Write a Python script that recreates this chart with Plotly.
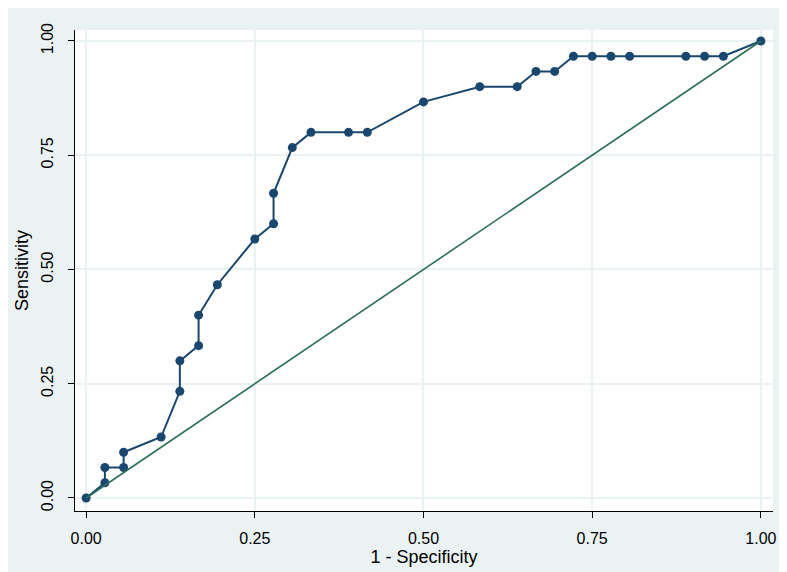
import plotly.graph_objects as go

# ROC points (36 negatives, 30 positives)
fpr = [0, 1/36, 1/36, 2/36, 2/36, 4/36, 5/36, 5/36, 6/36, 6/36, 7/36,
       9/36, 10/36, 10/36, 11/36, 12/36, 14/36, 15/36, 18/36, 21/36,
       23/36, 24/36, 25/36, 26/36, 27/36, 28/36, 29/36, 32/36, 33/36,
       34/36, 1]
tpr = [0, 1/30, 2/30, 2/30, 3/30, 4/30, 7/30, 9/30, 10/30, 12/30, 14/30,
       17/30, 18/30, 20/30, 23/30, 24/30, 24/30, 24/30, 26/30, 27/30,
       27/30, 28/30, 28/30, 29/30, 29/30, 29/30, 29/30, 29/30, 29/30,
       29/30, 1]
ref_x = [0, 1]
ref_y = [0, 1]
ticks = [0, 0.25, 0.5, 0.75, 1]
tick_text = ["0.00", "0.25", "0.50", "0.75", "1.00"]

bg = "#EAF2F3"
navy = "#1a476f"

fig = go.Figure()
fig.add_trace(go.Scatter(x=fpr, y=tpr, mode="lines+markers",
                         line=dict(color=navy, width=2),
                         marker=dict(color=navy, size=9, symbol="circle"),
                         showlegend=False))
fig.add_trace(go.Scatter(x=ref_x, y=ref_y, mode="lines",
                         line=dict(color="#2d6e5a", width=1.6),
                         showlegend=False))

fig.update_layout(
    width=787, height=572,
    margin=dict(l=67, r=22, t=22, b=69),
    paper_bgcolor=bg, plot_bgcolor="white",
    font=dict(family="Liberation Sans, Arial, sans-serif", size=15, color="black"),
)
fig.update_xaxes(range=[-0.0165, 1.018], tickvals=ticks, ticktext=tick_text,
                 automargin=False, tickfont=dict(size=16),
                 showgrid=True, gridcolor=bg, gridwidth=1.5, zeroline=False,
                 showline=True, linecolor="black", linewidth=1,
                 ticks="outside", ticklen=6, tickcolor="black",
                 ticklabelstandoff=7,
                 title=dict(text="1 - Specificity", standoff=3))
fig.update_yaxes(range=[-0.0285, 1.024], tickvals=ticks, ticktext=tick_text,
                 tickangle=-90, automargin=False, tickfont=dict(size=16),
                 showgrid=True, gridcolor=bg, gridwidth=1.5, zeroline=False,
                 showline=True, linecolor="black", linewidth=1,
                 ticks="outside", ticklen=6, tickcolor="black",
                 ticklabelstandoff=9,
                 title=dict(text="Sensitivity", standoff=5))

fig.write_html("out.html")
